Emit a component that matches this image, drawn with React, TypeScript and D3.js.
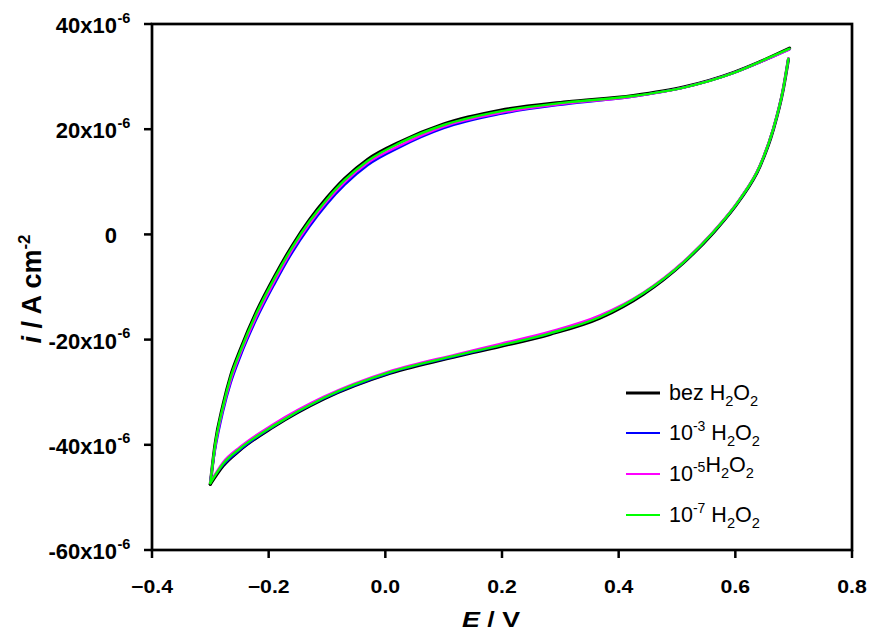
import React from "react";
import * as d3 from "d3";

// Forward (anodic) sweep, E in V, current in units of 1e-6 A cm^-2
const E_FWD = [-0.300, -0.292, -0.278, -0.265, -0.249, -0.221, -0.190, -0.160, -0.130, -0.100, -0.070, -0.030, 0.025, 0.100, 0.197, 0.311, 0.425, 0.511, 0.597, 0.654, 0.693];
const I_FWD_BEZ = [-47.5, -40.0, -32.3, -26.8, -22.0, -14.7, -8.0, -2.2, 2.8, 7.0, 10.6, 14.3, 17.6, 21.0, 23.6, 25.2, 26.4, 28.0, 30.8, 33.4, 35.4];
const I_FWD_3 = [-47.0, -41.0, -33.5, -28.2, -23.3, -16.1, -9.4, -3.5, 1.5, 5.8, 9.4, 13.2, 16.6, 20.2, 22.9, 24.8, 26.2, 27.9, 30.7, 33.3, 35.2];
const I_FWD_5 = [-47.1, -40.6, -33.0, -27.7, -22.8, -15.6, -8.9, -3.0, 2.0, 6.3, 9.9, 13.6, 16.9, 20.5, 23.1, 24.9, 26.2, 27.9, 30.7, 33.3, 35.2];
const I_FWD_7 = [-47.3, -40.2, -32.6, -27.1, -22.3, -15.0, -8.3, -2.5, 2.5, 6.7, 10.3, 14.0, 17.4, 20.8, 23.4, 25.1, 26.3, 27.9, 30.7, 33.4, 35.3];

// Reverse (cathodic) sweep
const E_REV = [0.691, 0.682, 0.665, 0.642, 0.608, 0.562, 0.511, 0.442, 0.368, 0.282, 0.197, 0.122, 0.008, -0.106, -0.192, -0.249, -0.278, -0.300];
const I_REV_BEZ = [33.3, 27.5, 19.9, 12.9, 6.6, 0.3, -5.4, -11.4, -15.9, -19.0, -21.3, -23.2, -26.4, -31.3, -36.6, -41.0, -44.0, -47.5];
const I_REV_3 = [33.4, 27.6, 20.0, 13.0, 6.7, 0.4, -5.3, -11.2, -15.6, -18.8, -21.1, -23.1, -26.3, -31.2, -36.5, -40.9, -43.8, -47.0];
const I_REV_5 = [33.5, 27.7, 20.1, 13.1, 6.8, 0.5, -5.2, -11.1, -15.4, -18.5, -20.8, -22.8, -26.0, -30.9, -36.1, -40.4, -43.3, -47.1];
const I_REV_7 = [33.4, 27.6, 20.0, 13.0, 6.7, 0.4, -5.3, -11.2, -15.7, -18.8, -21.1, -23.0, -26.2, -31.1, -36.4, -40.7, -43.6, -47.3];

const X_TICKS = [-0.4, -0.2, 0.0, 0.2, 0.4, 0.6, 0.8];
const Y_TICKS = [-60, -40, -20, 0, 20, 40];

const SERIES_NAMES = ["bez", "-3", "-5", "-7"];
const SERIES_COLORS = ["#000000", "#0000ff", "#ff00ff", "#00ff00"];
const SERIES_FWD = [I_FWD_BEZ, I_FWD_3, I_FWD_5, I_FWD_7];
const SERIES_REV = [I_REV_BEZ, I_REV_3, I_REV_5, I_REV_7];
const DRAW_ORDER = [0, 1, 2, 3];

const W = 872;
const H = 632;
const L = 152, R = 852, T = 24, B = 550;
const FONT = "'Liberation Sans', Arial, Helvetica, sans-serif";

export default function App() {
  const x = d3.scaleLinear().domain([-0.4, 0.8]).range([L, R]);
  const y = d3.scaleLinear().domain([-60, 40]).range([B, T]);

  const line = d3
    .line<[number, number]>()
    .x((d) => x(d[0]))
    .y((d) => y(d[1]))
    .curve(d3.curveMonotoneX);

  const fmtX = d3.format(".1f");

  const legendY = [393, 433, 474, 515];
  const LFS = 21.5;

  const H2O2 = (fs: number) => [
    <tspan key="h">H</tspan>,
    <tspan key="s1" dy={6} fontSize={fs * 0.68}>2</tspan>,
    <tspan key="o" dy={-6}>O</tspan>,
    <tspan key="s2" dy={6} fontSize={fs * 0.68}>2</tspan>,
  ];

  return (
    <svg
      width={W}
      height={H}
      style={{ position: "absolute", left: 0, top: 0, display: "block", background: "#fff" }}
      fontFamily={FONT}
    >
      <rect x={0} y={0} width={W} height={H} fill="#fff" />

      {/* curves */}
      {DRAW_ORDER.map((s) => {
        const fwd: [number, number][] = E_FWD.map((e, k) => [e, SERIES_FWD[s][k]]);
        const rev: [number, number][] = E_REV.map((e, k) => [e, SERIES_REV[s][k]] as [number, number]).reverse();
        const sw = s === 0 ? 3.2 : 2.4;
        return (
          <g key={s} fill="none" stroke={SERIES_COLORS[s]} strokeWidth={sw} strokeLinejoin="round" strokeLinecap="round">
            <path d={line(rev) || ""} />
            <path d={line(fwd) || ""} />
          </g>
        );
      })}

      {/* frame */}
      <rect x={L} y={T} width={R - L} height={B - T} fill="none" stroke="#000" strokeWidth={2.7} />

      {/* y ticks */}
      {Y_TICKS.map((v) => (
        <g key={"y" + v}>
          <line x1={L - 8} x2={L} y1={y(v)} y2={y(v)} stroke="#000" strokeWidth={2.5} />
          <text x={117} y={y(v) + 9} textAnchor="end" fontSize={22} fontWeight="bold">
            {v === 0 ? "0" : `${v}x10`}
          </text>
          {v !== 0 && (
            <text x={117.5} y={y(v) - 1.5} textAnchor="start" fontSize={14.5} fontWeight="bold">
              -6
            </text>
          )}
        </g>
      ))}

      {/* x ticks */}
      {X_TICKS.map((v) => (
        <g key={"x" + v}>
          <line x1={x(v)} x2={x(v)} y1={B} y2={B + 8} stroke="#000" strokeWidth={2.5} />
          <text
            transform={`translate(${x(v)},593) scale(1.18,1)`}
            textAnchor="middle"
            fontSize={18}
            fontWeight="bold"
          >
            {fmtX(v)}
          </text>
        </g>
      ))}

      {/* axis titles */}
      <text transform={`translate(491,627) scale(1.22,1)`} textAnchor="middle" fontSize={22} fontWeight="bold">
        <tspan fontStyle="italic">E</tspan>
        <tspan> / V</tspan>
      </text>
      <text transform={`translate(41,${(T + B) / 2 + 2}) rotate(-90)`} textAnchor="middle" fontSize={27} fontWeight="bold">
        <tspan fontStyle="italic">i</tspan>
        <tspan> / A cm</tspan>
        <tspan dy={-11} fontSize={17}>-2</tspan>
      </text>

      {/* legend */}
      {SERIES_NAMES.map((n, k) => (
        <g key={"lg" + k}>
          <line x1={626} x2={660} y1={legendY[k]} y2={legendY[k]} stroke={SERIES_COLORS[k]} strokeWidth={k === 0 ? 3 : 2} />
          <text x={669} y={legendY[k] + 7} fontSize={LFS}>
            {n === "bez" ? (
              <>
                <tspan>bez </tspan>
                {H2O2(LFS)}
              </>
            ) : (
              <>
                <tspan>10</tspan>
                <tspan dy={-9} fontSize={14}>{n}</tspan>
                <tspan dy={9}>{n === "-5" ? "" : " "}</tspan>
                {H2O2(LFS)}
              </>
            )}
          </text>
        </g>
      ))}
    </svg>
  );
}
